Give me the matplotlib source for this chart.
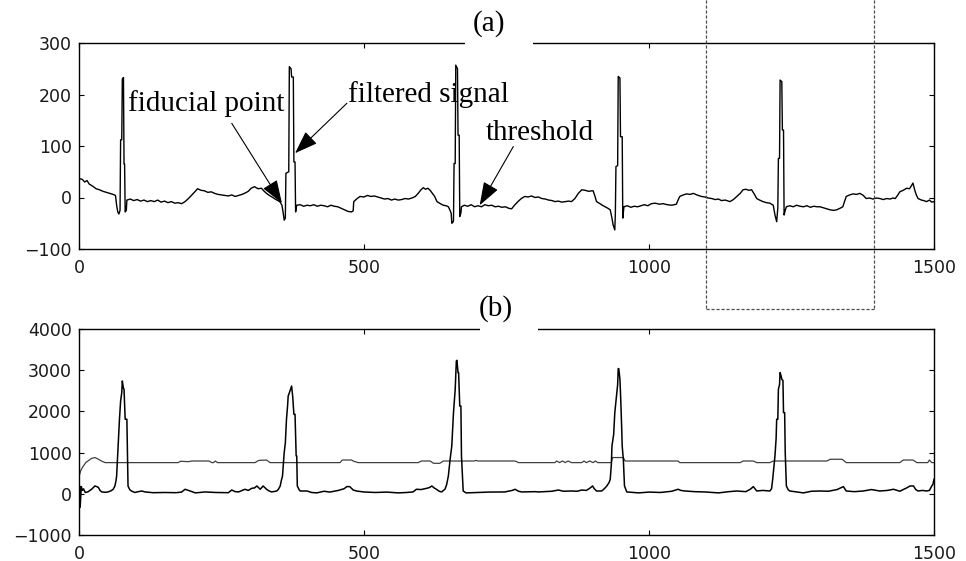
import matplotlib
matplotlib.use("Agg")
import matplotlib.pyplot as plt
from matplotlib.lines import Line2D
from matplotlib.patches import Rectangle

# (a) filtered ECG signal (sample index, amplitude)
sig_x = [0, 6, 10, 14, 18, 24, 30, 36, 42, 48, 54, 60, 64, 66, 68, 70, 72, 73, 75, 76, 78, 79, 80, 81, 83, 84,
         90, 96, 102, 108, 114, 120, 126, 132, 138, 144, 150, 156, 162, 168, 174, 180, 186, 192, 198, 204, 208,
         214, 220, 226, 232, 238, 244, 250, 256, 262, 268, 274, 280, 286, 292, 297, 302, 308, 314, 320, 325,
         329, 334, 340, 344, 349, 353, 356, 358, 360, 362, 363, 368, 369, 372, 373, 376, 377, 379, 380, 382,
         388, 394, 400, 406, 412, 418, 424, 430, 436, 442, 448, 454, 460, 466, 472, 478, 481, 482, 488, 493,
         500, 506, 512, 518, 524, 530, 536, 542, 548, 554, 560, 566, 572, 578, 584, 590, 595, 600, 604, 608,
         612, 616, 620, 624, 628, 634, 639, 644, 648, 651, 653, 654, 656, 657, 658, 660, 661, 664, 665, 667,
         668, 670, 671, 676, 682, 688, 694, 700, 706, 712, 718, 724, 730, 736, 742, 748, 754, 759, 764, 770,
         776, 782, 788, 794, 800, 806, 812, 818, 824, 830, 835, 841, 847, 853, 859, 864, 870, 876, 882, 888,
         894, 900, 902, 905, 908, 914, 918, 923, 928, 932, 935, 937, 940, 941, 942, 945, 946, 949, 950, 953,
         954, 956, 962, 968, 974, 980, 986, 992, 998, 1004, 1011, 1018, 1025, 1032, 1040, 1048, 1051, 1054,
         1060, 1066, 1072, 1078, 1084, 1092, 1098, 1104, 1110, 1116, 1122, 1127, 1134, 1142, 1148, 1154, 1160,
         1165, 1170, 1175, 1180, 1185, 1189, 1194, 1200, 1206, 1212, 1218, 1221, 1224, 1226, 1227, 1229, 1230,
         1233, 1234, 1236, 1237, 1239, 1241, 1247, 1253, 1259, 1265, 1271, 1277, 1283, 1289, 1295, 1300, 1306,
         1312, 1318, 1324, 1329, 1335, 1340, 1343, 1346, 1352, 1358, 1364, 1370, 1376, 1381, 1387, 1393, 1399,
         1405, 1411, 1417, 1423, 1428, 1432, 1436, 1440, 1446, 1452, 1457, 1461, 1463, 1465, 1466, 1469, 1472,
         1478, 1482, 1487, 1492, 1496, 1500]
sig_y = [37, 35, 30, 33, 26, 22, 17, 15, 12, 10, 8, 6, 4, -15, -28, -32, -25, 112, 112, 230, 233, 65, 65, -28, -25, -5,
         -3, -6, -4, -7, -5, -8, -6, -8, -5, -9, -7, -10, -8, -11, -10, -12, -8, -2, 5, 12, 17,
         14, 13, 10, 11, 8, 6, 5, 4, 3, 5, 2, 4, 6, 9, 12, 18, 21, 17, 18, 12,
         8, 4, 0, -3, -6, -9, -15, -28, -44, -40, 47, 50, 254, 250, 234, 234, 69, 69, -28, -15,
         -14, -17, -15, -16, -14, -17, -15, -16, -18, -15, -17, -18, -21, -24, -27, -28, -26, -8, -2, 2,
         1, 4, 2, 3, 1, -1, -3, -2, -5, -3, -5, -4, -2, -3, -1, 2, 8, 15, 19, 16,
         18, 14, 8, 2, -8, -12, -15, -16, -18, -25, -31, -50, -48, -45, 66, 66, 257, 250, 121, 121,
         -37, -30, -18, -15, -17, -14, -18, -16, -18, -14, -16, -15, -18, -17, -19, -18, -21, -22, -15, -8,
         -2, 2, 1, 3, 0, 1, -2, -3, -5, -6, -8, -7, -9, -8, -7, -8, -2, 8, 15, 14,
         12, 13, 13, 3, -8, -12, -15, -18, -21, -24, -40, -53, -63, -30, 60, 62, 235, 232, 118, 118,
         -40, -18, -16, -19, -17, -18, -16, -14, -16, -12, -11, -13, -12, -14, -15, -13, -5, 2,
         5, 7, 6, 8, 5, 2, 1, -1, -2, -4, -3, -6, -5, -8, -4, 2, 8,
         15, 16, 14, 15, 6, -2, -5, -8, -10, -11, -15, -34, -47, -20, 76, 76, 228,
         225, 131, 131, -34, -25, -18, -16, -18, -15, -17, -18, -16, -19, -17, -18, -18, -20,
         -22, -24, -25, -24, -21, -18, -8, 2, 5, 7, 6, 8, 4, -2, -1, -3, -1,
         -2, -4, -2, -3, -1, -2, 4, 11, 14, 18, 17, 24, 28, 20, 15, 5, -2,
         -5, -6, -8, -5, -9, -8]

# (b) integrated signal
int_x = [0, 1, 2, 3, 4, 6, 8, 11, 16, 22, 28, 31, 34, 37, 40, 46, 51, 56, 60, 63, 65, 66, 68, 71, 73, 75, 76, 78,
         79, 81, 84, 85, 86, 89, 92, 98, 104, 110, 116, 130, 150, 170, 180, 186, 190, 195, 204, 221, 240, 262,
         268, 274, 280, 291, 297, 303, 308, 312, 318, 323, 329, 333, 338, 347, 350, 353, 355, 357, 360, 362,
         364, 366, 367, 369, 372, 373, 375, 377, 379, 381, 382, 383, 386, 388, 400, 408, 417, 430, 440, 455,
         465, 470, 475, 481, 487, 499, 520, 540, 560, 575, 586, 592, 600, 610, 615, 619, 623, 627, 632, 636,
         642, 645, 648, 651, 654, 657, 659, 660, 662, 663, 665, 666, 668, 670, 671, 673, 674, 679, 700, 720,
         747, 760, 765, 771, 777, 800, 806, 830, 841, 850, 864, 874, 882, 890, 896, 901, 904, 908, 917, 920,
         923, 926, 930, 932, 934, 935, 938, 940, 942, 943, 945, 946, 947, 949, 950, 951, 952, 953, 955, 957,
         961, 982, 1000, 1020, 1040, 1051, 1056, 1063, 1080, 1098, 1122, 1140, 1154, 1170, 1178, 1183, 1189,
         1200, 1212, 1215, 1217, 1219, 1221, 1223, 1224, 1226, 1227, 1229, 1230, 1232, 1233, 1235, 1236, 1238,
         1239, 1240, 1241, 1244, 1247, 1260, 1271, 1285, 1300, 1315, 1330, 1341, 1346, 1360, 1376, 1390, 1405,
         1418, 1429, 1440, 1452, 1458, 1464, 1468, 1472, 1480, 1487, 1492, 1496, 1498, 1500]
int_y = [120, 190, -330, -80, 175, 85, 120, 30, 50, 110, 190, 175, 155, 80, 45, 37, 45, 72, 110, 190, 325, 430, 1000,
         1810, 2250, 2455, 2738, 2560, 2535, 1810, 1810, 1000, 190, 100, 68, 32, 52, 68, 45, 27, 32, 27, 42, 110,
         92, 68, 22, 45, 32, 27, 92, 52, 45, 110, 82, 133, 143, 190, 110, 190, 110, 72, 45, 68, 113, 190, 325,
         430, 1000, 1235, 1810, 2150, 2375, 2450, 2580, 2616, 2350, 1930, 1930, 920, 920, 190, 103, 68, 68, 32,
         22, 62, 42, 82, 123, 175, 175, 92, 68, 45, 32, 42, 22, 32, 45, 110, 103, 133, 153, 190, 143, 110, 62,
         45, 110, 225, 433, 830, 1160, 1970, 2350, 2535, 3223, 3240, 2940, 2940, 2130, 2130, 920, 325, 68, 22,
         32, 42, 45, 82, 110, 62, 45, 52, 45, 62, 92, 62, 68, 62, 92, 82, 133, 190, 123, 68, 68, 103, 143, 190,
         275, 352, 730, 1160, 1440, 1970, 2250, 2375, 2650, 3038, 3038, 2780, 2450, 2050, 1640, 1160, 830, 190,
         45, 22, 42, 32, 62, 110, 82, 68, 52, 45, 22, 52, 68, 52, 113, 175, 68, 82, 68, 123, 352, 630, 920, 1340,
         1810, 1810, 2535, 2650, 2942, 2850, 2780, 2750, 1970, 1970, 1000, 630, 190, 103, 68, 42, 22, 62, 68,
         62, 103, 175, 68, 52, 68, 103, 68, 82, 110, 62, 143, 190, 190, 103, 68, 82, 68, 82, 190, 225, 352]

# (b) adaptive threshold
thr_x = [0, 3, 6, 9, 12, 16, 22, 28, 34, 40, 46, 174, 178, 192, 198, 228, 233, 236, 239, 243, 309, 315, 329, 335,
         458, 462, 478, 482, 490, 595, 601, 616, 622, 633, 639, 693, 696, 700, 756, 765, 771, 835, 838, 843, 848,
         853, 858, 864, 882, 886, 890, 896, 902, 906, 910, 934, 936, 955, 958, 1051, 1054, 1160, 1165, 1183,
         1189, 1212, 1218, 1241, 1312, 1318, 1339, 1346, 1440, 1446, 1463, 1470, 1489, 1492, 1496, 1500]
thr_y = [420, 560, 640, 700, 760, 800, 860, 880, 840, 790, 757, 757, 790, 780, 796, 796, 757, 757, 796, 757, 757,
         810, 820, 757, 757, 820, 820, 790, 757, 757, 796, 796, 740, 740, 796, 796, 810, 796, 796, 796, 757, 757,
         796, 757, 796, 757, 796, 757, 757, 796, 757, 796, 757, 796, 757, 757, 880, 880, 796, 796, 757, 757, 796,
         796, 757, 757, 796, 796, 796, 838, 838, 757, 757, 820, 820, 757, 757, 820, 757, 757]

W, H = 966, 561


def fx(px):
    return px / W


def fy(py):
    return 1 - py / H


fig = plt.figure(figsize=(W / 100, H / 100), dpi=100)
ax1 = fig.add_axes([fx(79), fy(249), fx(934) - fx(79), fy(43) - fy(249)])
ax2 = fig.add_axes([fx(79), fy(535), fx(934) - fx(79), fy(329) - fy(535)])

ax1.plot(sig_x, sig_y, color="black", lw=1.0)
ax2.plot(thr_x, thr_y, color="0.25", lw=0.9)
ax2.plot(int_x, int_y, color="black", lw=1.1)

ax1.set_ylim(-100, 300)
ax1.set_yticks([-100, 0, 100, 200, 300])
ax2.set_ylim(-1000, 4000)
ax2.set_yticks([-1000, 0, 1000, 2000, 3000, 4000])
for ax in (ax1, ax2):
    ax.set_xlim(0, 1500)
    ax.set_xticks([0, 500, 1000, 1500])
    ax.tick_params(direction="in", length=3.6, width=0.8, top=True, right=True,
                   labelsize=12.5, labelcolor="0.1")
    ax.tick_params(axis="x", pad=7)
    ax.tick_params(axis="y", pad=5)
    for s in ax.spines.values():
        s.set_linewidth(1.0)

serif = dict(family="Liberation Serif", fontsize=21)

# annotations in panel (a)
ax1.text(86, 167, "fiducial point", ha="left", va="baseline", **serif)
ax1.text(472, 186, "filtered signal", ha="left", va="baseline", **serif)
ax1.text(714, 112, "threshold", ha="left", va="baseline", **serif)
arrow = dict(arrowstyle="-|>,head_length=0.9,head_width=0.32", color="black", lw=0.8,
             shrinkA=0, shrinkB=0, mutation_scale=16)
ax1.annotate("", xy=(356, -11), xytext=(268, 144), arrowprops=arrow)
ax1.annotate("", xy=(379, 86), xytext=(470, 183), arrowprops=arrow)
ax1.annotate("", xy=(703, -15), xytext=(762, 99), arrowprops=arrow)

# panel labels sitting in a white box over the top frame line
fig.add_artist(Rectangle((fx(465), fy(47)), fx(533) - fx(465), fy(5) - fy(47),
                         transform=fig.transFigure, facecolor="white", edgecolor="none", zorder=2))
fig.add_artist(Rectangle((fx(480), fy(333)), fx(538) - fx(480), fy(288) - fy(333),
                         transform=fig.transFigure, facecolor="white", edgecolor="none", zorder=2))
fig.text(fx(473), fy(31), "(a)", ha="left", va="baseline", zorder=3, **serif)
fig.text(fx(479), fy(316), "(b)", ha="left", va="baseline", zorder=3, **serif)

# dashed zoom box
box = dict(transform=fig.transFigure, color="0.3", lw=0.9, ls=(0, (2.5, 1.5)), zorder=4)
fig.add_artist(Line2D([fx(706), fx(706)], [fy(0), fy(309)], **box))
fig.add_artist(Line2D([fx(874), fx(874)], [fy(0), fy(309)], **box))
fig.add_artist(Line2D([fx(706), fx(874)], [fy(309), fy(309)], **box))

fig.savefig("out.png", dpi=100)
